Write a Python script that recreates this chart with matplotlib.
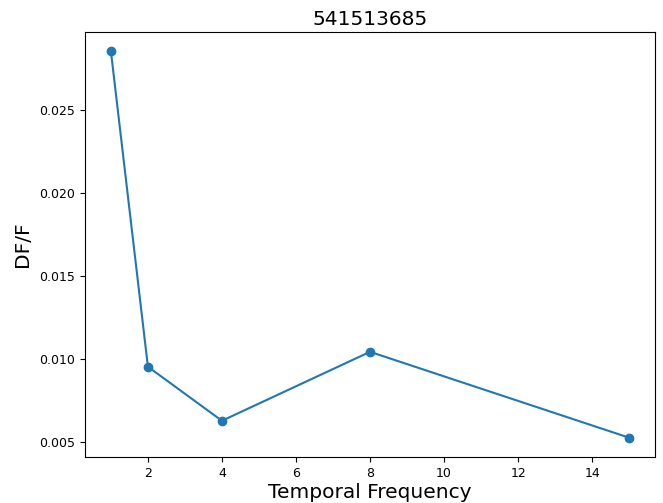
import matplotlib
matplotlib.use('Agg')
import matplotlib.pyplot as plt

# temporal frequencies and mean DF/F response
freqs = [1, 2, 4, 8, 15]
dff = [0.02855, 0.00952, 0.00626, 0.01042, 0.00524]

fig = plt.figure(figsize=(6.63, 5.03), dpi=100)
ax = fig.add_axes([85/663, 1 - 457/503, (655-85)/663, (457-32)/503])

ax.plot(freqs, dff, 'o-', color='#1f77b4')
ax.set_title('541513685', fontsize=14.5, pad=5)
ax.set_xlabel('Temporal Frequency', fontsize=14.5, labelpad=2)
ax.set_ylabel('DF/F', fontsize=14.5, labelpad=5)
ax.set_xticks([2, 4, 6, 8, 10, 12, 14])
ax.tick_params(labelsize=9)

fig.savefig('out.png', dpi=100)
